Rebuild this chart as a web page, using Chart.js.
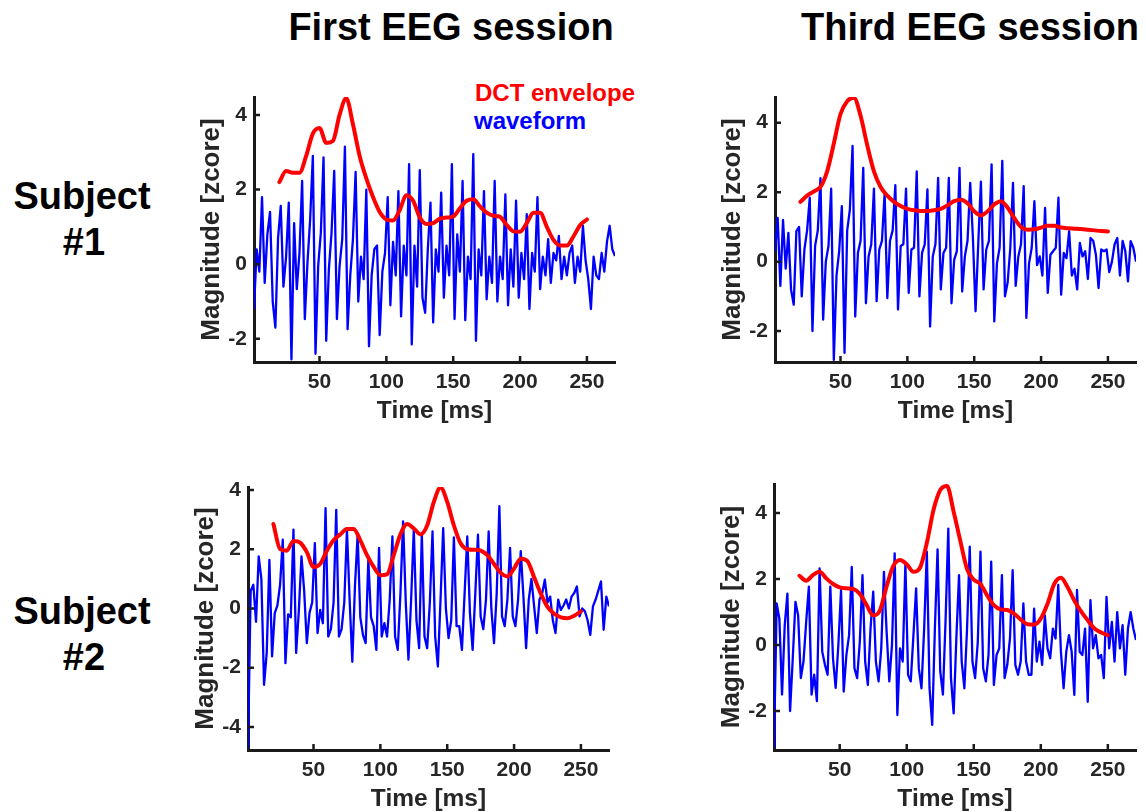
<!DOCTYPE html>
<html>
<head>
<meta charset="utf-8">
<script src="https://cdn.jsdelivr.net/npm/chart.js@4.4.1/dist/chart.umd.min.js"></script>
<style>
  body { margin: 0; background: #fff; width: 1146px; height: 812px; overflow: hidden; position: relative;
         font-family: "Liberation Sans", Arial, sans-serif; }
  .txt { position: absolute; font-weight: bold; white-space: nowrap; line-height: 1; color: #000; }
  .ctr { transform: translateX(-50%); text-align: center; }
  canvas { position: absolute; }
</style>
</head>
<body>

<div class="txt ctr" style="left:451px; top:8px; font-size:38px;">First EEG session</div>
<div class="txt ctr" style="left:970px; top:8px; font-size:38px;">Third EEG session</div>

<div class="txt ctr" style="left:82px; top:177px; font-size:38px;">Subject</div>
<div class="txt ctr" style="left:84px; top:223px; font-size:38px;">#1</div>
<div class="txt ctr" style="left:82px; top:592px; font-size:38px;">Subject</div>
<div class="txt ctr" style="left:84px; top:638px; font-size:38px;">#2</div>

<div class="txt" style="left:475px; top:81px; font-size:24px; color:#ff0000;">DCT envelope</div>
<div class="txt" style="left:474px; top:109px; font-size:24px; color:#0000ff;">waveform</div>

<script>
// sampling grids (ms)
const waveTime = [];
for (let t = 1; t <= 271; t += 2) waveTime.push(t);
const envTime = [];
for (let t = 20; t <= 250; t += 5) envTime.push(t);

const timeTicks = [50, 100, 150, 200, 250];
const yTicksA = [-2, 0, 2, 4];
const yTicksB = [-4, -2, 0, 2, 4];

// Subject #1, first session
const s1FirstWave = [
  -1.2, 0.4, -0.2, 1.8, -0.5, 0.8, 1.4, -1.0, -1.7, 0.7,
  1.56, -0.6, 0.2, 1.65, -2.55, 1.1, -0.67, 0.3, 2.23, -1.47,
  0.05, 1.2, 2.9, -2.4, -0.05, 0.85, 2.86, -2.05, -0.13, 0.85,
  2.5, -1.47, -0.05, 0.67, 3.15, -1.74, -0.3, 0.67, 2.47, -1.0,
  0.2, -0.4, 2.0, -2.2, -0.3, 0.4, 0.5, -1.9, -0.2, 0.3,
  1.8, -1.1, 0.6, -0.3, 1.96, -1.4, 0.5, -0.3, 2.68, -2.15,
  0.5, -0.6, 2.52, -0.9, -1.3, 0.4, 1.65, -1.56, 0.4, -0.2,
  1.92, -0.9, 0.5, -0.3, 2.68, -1.47, 0.8, -0.2, 2.23, -1.5,
  0.2, -0.4, 2.95, -2.05, 0.4, -0.3, 1.96, -0.94, 0.2, -0.5,
  2.23, -1.0, 0.2, -0.4, 1.87, -1.1, 0.4, -0.6, 1.7, -0.9,
  0.3, -0.4, 1.34, -1.2, 0.3, -0.2, 1.8, -0.67, 0.2, -0.3,
  0.67, -0.5, 0.3, 0.1, 0.76, -0.4, 0.2, -0.3, 0.3, 0.5,
  -0.5, 0.2, -0.2, 1.03, 0.1, -0.4, -1.2, 0.2, -0.3, -0.4,
  0.3, -0.2, 0.6, 1.03, 0.4, 0.22
];
const s1FirstEnv = [
  2.2, 2.5, 2.45, 2.45, 2.9, 3.5, 3.65, 3.25, 3.3, 4.0,
  4.45, 3.75, 2.9, 2.3, 1.8, 1.4, 1.2, 1.17, 1.45, 1.85,
  1.7, 1.25, 1.08, 1.1, 1.22, 1.25, 1.28, 1.5, 1.7, 1.74,
  1.55, 1.38, 1.3, 1.27, 1.05, 0.88, 0.87, 1.1, 1.38, 1.38,
  1.0, 0.65, 0.5, 0.5, 0.75, 1.05, 1.2
];

// Subject #1, third session
const s1ThirdWave = [
  0.3, 1.26, -0.7, 1.2, -0.2, 0.83, -0.8, -1.24, 0.88, 1.0,
  -1.0, 0.35, 0.9, 1.84, -2.0, 0.45, 0.9, 2.4, -1.67, 0.0,
  0.45, 2.1, -2.83, -0.4, 0.3, 1.6, -2.63, 0.9, 1.5, 3.33,
  -1.58, 0.25, 0.6, 2.7, -1.2, 0.15, 0.5, 2.1, -1.14, 0.35,
  0.6, 1.98, -1.05, 0.6, 0.9, 2.2, -1.38, 0.45, 0.5, 2.1,
  -0.9, 0.35, 0.4, 2.6, -1.0, 0.25, 0.5, 2.08, -1.87, 0.15,
  0.5, 2.41, -0.8, 0.25, 0.4, 2.41, -1.2, 0.05, 0.3, 2.7,
  -0.86, 0.15, 0.6, 2.27, 0.7, -1.43, 0.5, 2.3, -0.8, 0.35,
  0.6, 2.8, -1.72, -0.05, 0.4, 2.9, -1.0, -0.6, 0.4, 2.27,
  -0.7, 0.15, 0.5, 2.17, -1.62, -0.05, 0.4, 1.74, -0.1, 0.15,
  -0.4, 1.55, -0.9, 0.2, 0.3, 0.4, 1.84, -0.95, 0.25, 0.1,
  0.88, -0.4, -0.2, -0.8, 0.54, 0.15, 0.3, -0.5, 0.68, 0.6,
  0.2, -0.76, 0.35, 0.3, 0.35, -0.3, 0.0, 0.5, 0.68, -0.4,
  0.6, 0.3, -0.57, 0.59, 0.4, 0.0
];
const s1ThirdEnv = [
  1.72, 1.9, 2.02, 2.15, 2.6, 3.4, 4.25, 4.62, 4.72, 4.2,
  3.35, 2.6, 2.15, 1.9, 1.72, 1.6, 1.52, 1.48, 1.46, 1.46,
  1.48, 1.52, 1.62, 1.74, 1.78, 1.68, 1.45, 1.33, 1.45, 1.65,
  1.74, 1.55, 1.25, 1.0, 0.92, 0.93, 0.98, 1.03, 1.03, 0.98,
  0.96, 0.95, 0.94, 0.92, 0.9, 0.88, 0.87
];

// Subject #2, first session
const s2FirstWave = [
  -4.7, 0.6, 0.8, -0.45, 1.76, 1.0, -2.58, -1.5, 1.64, -1.62,
  -0.16, 0.1, 0.8, 2.32, -1.85, -0.2, -0.3, 2.66, -1.5, -0.1,
  1.76, 0.6, -1.17, -0.15, 0.2, 2.2, -0.83, -0.05, -0.5, 3.39,
  -0.95, -0.7, 0.2, 3.33, -0.95, -0.7, 0.2, 2.66, 0.3, -1.8,
  0.75, 2.49, -0.3, -0.9, -1.17, 1.64, -0.3, -0.6, -1.4, 2.04,
  -0.95, -0.5, -0.95, 0.3, 2.43, -0.95, -1.4, 0.5, 2.94, 0.2,
  -1.73, 0.3, 2.66, -0.4, -1.34, 2.54, -0.95, -1.34, 0.2, 2.6,
  -0.95, -1.96, 0.3, 2.71, 0.0, -1.0, -0.4, 2.4, -0.6, -0.6,
  -1.4, 0.5, 2.43, -0.16, -1.4, 0.5, 2.49, -0.27, -0.7, 0.3,
  2.6, 0.0, -1.17, 0.5, 3.45, -0.27, -0.6, 0.3, 2.04, -0.27,
  -0.6, 0.3, 1.93, 0.4, -1.34, 0.3, 1.0, 0.07, -0.83, 0.3,
  0.5, 0.97, 0.2, 0.4, -0.4, -0.83, 0.3, -0.05, 0.1, 0.3,
  0.0, 0.4, 0.52, 0.74, -0.27, 0.0, -0.1, -0.4, -0.89, 0.07,
  0.3, 0.6, 0.91, -0.72, 0.4, 0.07
];
const s2FirstEnv = [
  2.85, 2.0, 1.95, 2.28, 2.22, 1.9, 1.4, 1.5, 1.95, 2.3,
  2.5, 2.68, 2.68, 2.3, 1.8, 1.4, 1.12, 1.15, 1.8, 2.5,
  2.85, 2.7, 2.5, 2.8, 3.6, 4.08, 3.6, 2.8, 2.2, 2.0,
  1.98, 1.95, 1.8, 1.5, 1.2, 1.08, 1.35, 1.68, 1.6, 1.05,
  0.5, 0.05, -0.18, -0.3, -0.33, -0.25, -0.1
];

// Subject #2, third session
const s2ThirdWave = [
  -3.1, 1.26, 0.8, -1.5, 0.6, 1.56, -2.0, -0.4, 1.31, 0.9,
  -1.0, -0.5, 0.7, 1.77, -1.5, -0.9, -1.7, 2.32, -0.2, -0.6,
  -0.9, 1.77, -0.4, -1.3, 0.0, 1.67, -1.41, -0.3, 0.3, 2.37,
  -0.7, -1.0, 0.1, 2.12, -0.5, -1.21, 0.5, 1.62, -0.5, -1.1,
  -0.1, 2.22, 0.4, -1.1, 0.0, 2.78, -2.12, -0.1, -0.5, 2.47,
  -0.9, -1.1, 0.3, 1.72, -0.7, -1.31, 0.5, 2.83, -1.3, -2.42,
  0.5, 2.9, -0.8, -1.5, 0.8, 3.53, -1.0, -2.07, 0.2, 2.12,
  -0.5, -1.31, 0.5, 2.98, -0.5, -1.0, 0.1, 2.83, -0.7, -1.1,
  -0.3, 2.53, -1.21, -0.3, -0.1, 2.12, -1.0, -0.6, 0.2, 2.27,
  -0.6, -0.9, -0.5, 1.26, -0.5, -0.9, -0.9, 1.1, -0.5, 0.1,
  -0.6, 0.9, -0.1, -0.4, 0.5, 0.2, 1.82, -0.2, -1.31, -0.2,
  0.3, -0.2, -1.51, 1.67, -0.2, -0.3, 0.5, -1.72, 1.36, -0.1,
  0.3, -0.4, -0.3, -1.0, 1.46, -0.1, 0.7, -0.5, 1.0, -0.1,
  0.6, -0.9, 0.5, 1.0, 0.5, 0.15
];
const s2ThirdEnv = [
  2.1, 1.95, 2.12, 2.22, 2.02, 1.85, 1.75, 1.72, 1.7, 1.55,
  1.22, 0.9, 1.05, 1.78, 2.4, 2.58, 2.45, 2.22, 2.35, 3.1,
  4.1, 4.7, 4.82, 4.04, 3.15, 2.3, 1.98, 1.85, 1.5, 1.21,
  1.08, 1.06, 0.95, 0.78, 0.63, 0.62, 0.8, 1.25, 1.85, 2.04,
  1.75, 1.35, 1.02, 0.75, 0.5, 0.38, 0.3
];

const FONT = "'Liberation Sans', Arial, sans-serif";
const AXIS = '#1a1a1a';
const LABEL = '#262626';

// padding round each plot box (left axis strip, top, right, bottom axis strip)
const PAD_L = 75, PAD_T = 20, PAD_R = 20, PAD_B = 70;

// inward MATLAB-style tick marks
const tickMarks = {
  id: 'tickMarks',
  afterDraw(chart) {
    const { ctx, chartArea: a, scales } = chart;
    ctx.save();
    ctx.strokeStyle = AXIS;
    ctx.lineWidth = 2.5;
    ctx.beginPath();
    scales.x.ticks.forEach(t => {
      const x = scales.x.getPixelForValue(t.value);
      ctx.moveTo(x, a.bottom); ctx.lineTo(x, a.bottom - 6);
    });
    scales.y.ticks.forEach(t => {
      const y = scales.y.getPixelForValue(t.value);
      ctx.moveTo(a.left, y); ctx.lineTo(a.left + 6, y);
    });
    ctx.stroke();
    ctx.restore();
  }
};

function makePanel(box, yMin, yMax, yTicks, wave, env) {
  const [L, T, R, B] = box;
  const cv = document.createElement('canvas');
  cv.width = R - L + PAD_L + PAD_R;
  cv.height = B - T + PAD_T + PAD_B;
  cv.style.left = (L - PAD_L) + 'px';
  cv.style.top = (T - PAD_T) + 'px';
  document.body.appendChild(cv);

  new Chart(cv, {
    type: 'line',
    data: {
      datasets: [
        {
          label: 'DCT envelope',
          data: envTime.map((t, i) => ({ x: t, y: env[i] })),
          borderColor: '#ff0000',
          borderWidth: 4,
          pointRadius: 0,
          cubicInterpolationMode: 'monotone',
          borderCapStyle: 'round',
          fill: false
        },
        {
          label: 'waveform',
          data: waveTime.map((t, i) => ({ x: t, y: wave[i] })),
          borderColor: '#0000ff',
          borderWidth: 2.3,
          pointRadius: 0,
          tension: 0,
          borderJoinStyle: 'round',
          fill: false
        }
      ]
    },
    options: {
      responsive: false,
      animation: false,
      devicePixelRatio: 1,
      layout: { padding: { top: PAD_T, right: PAD_R, left: 0, bottom: 0 } },
      plugins: { legend: { display: false }, tooltip: { enabled: false } },
      scales: {
        x: {
          type: 'linear',
          min: 1,
          max: 271,
          afterBuildTicks: s => { s.ticks = timeTicks.map(v => ({ value: v })); },
          afterFit: s => { s.height = PAD_B; },
          grid: { display: false, drawTicks: false },
          border: { display: true, color: AXIS, width: 3 },
          ticks: { color: LABEL, font: { family: FONT, size: 21, weight: 'bold' }, padding: 8, maxRotation: 0, autoSkip: false },
          title: { display: true, text: 'Time [ms]', color: LABEL, font: { family: FONT, size: 24.5, weight: 'bold' }, padding: { top: 0, bottom: 6 } }
        },
        y: {
          type: 'linear',
          min: yMin,
          max: yMax,
          afterBuildTicks: s => { s.ticks = yTicks.map(v => ({ value: v })); },
          afterFit: s => { s.width = PAD_L; },
          grid: { display: false, drawTicks: false },
          border: { display: true, color: AXIS, width: 3 },
          ticks: { color: LABEL, font: { family: FONT, size: 21, weight: 'bold' }, padding: 7, autoSkip: false },
          title: { display: true, text: 'Magnitude [zcore]', color: LABEL, font: { family: FONT, size: 26, weight: 'bold' }, padding: { top: 17, bottom: 0 } }
        }
      }
    },
    plugins: [tickMarks]
  });
}

makePanel([254, 97, 615, 362], -2.62, 4.48, yTicksA, s1FirstWave, s1FirstEnv);
makePanel([775, 97, 1136, 362], -2.89, 4.74, yTicksA, s1ThirdWave, s1ThirdEnv);
makePanel([248, 487, 609, 750], -4.78, 4.1, yTicksB, s2FirstWave, s2FirstEnv);
makePanel([774, 484, 1136, 750], -3.18, 4.88, yTicksA, s2ThirdWave, s2ThirdEnv);
</script>
</body>
</html>
